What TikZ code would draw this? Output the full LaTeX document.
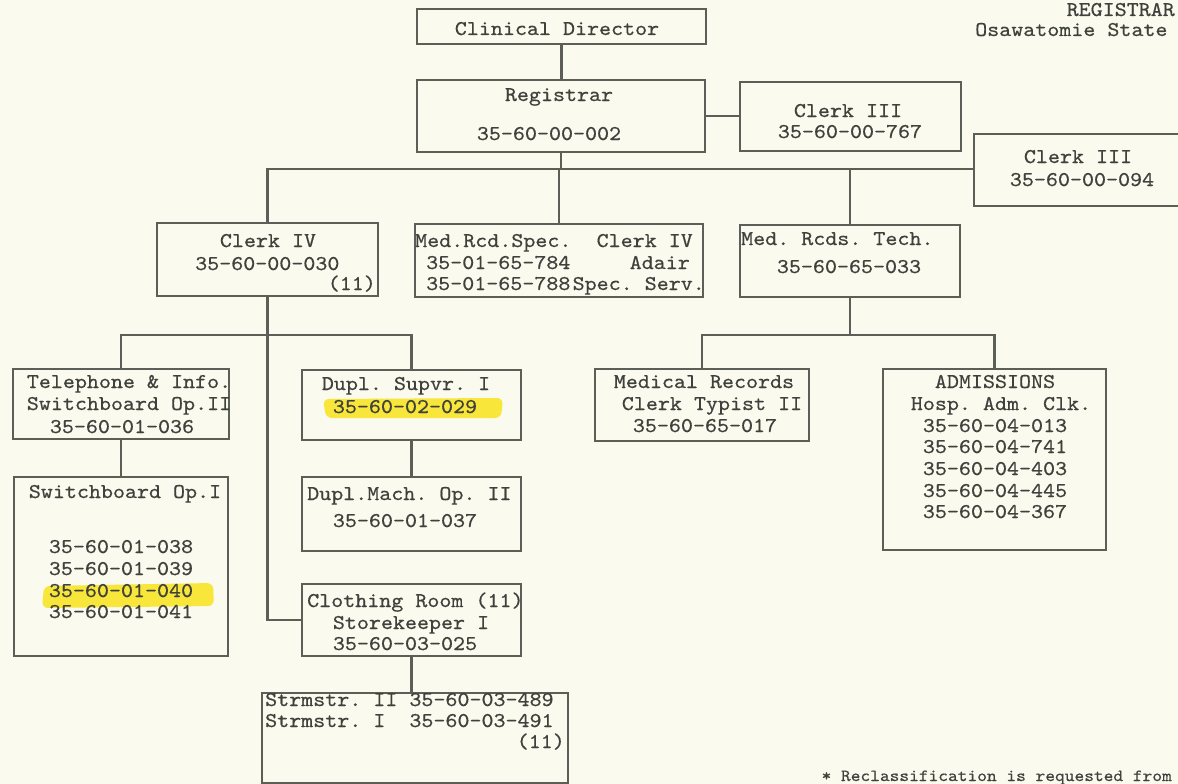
\documentclass[tikz,border=0pt]{standalone}
\usepackage{fontspec}
\usetikzlibrary{fit}
\newfontfamily\typew{lmmono10-regular.otf}[FakeStretch=1.09,FakeBold=0.5]
\definecolor{paper}{HTML}{FBFAEF}
\definecolor{ink}{HTML}{3F413C}
\definecolor{rulec}{HTML}{5B5F57}
\definecolor{hl}{HTML}{F8E63A}
\tikzset{
  box/.style={draw=rulec, line width=1.3pt, inner sep=0pt, rectangle},
  conn/.style={draw=rulec, line width=2.4pt},
  tl/.style={font=\typew\frenchspacing\fontsize{21}{21}\selectfont, text=ink, inner sep=0pt, anchor=base},
  tw/.style={tl, anchor=base west},
  te/.style={tl, anchor=base east},
  small/.style={font=\typew\frenchspacing\fontsize{17}{17}\selectfont, text=ink, inner sep=0pt, anchor=base east},
  hlmark/.style={fill=hl, rounded corners=6pt},
}
\begin{document}
\begin{tikzpicture}[x=1pt,y=-1pt]
\fill[paper] (0,0) rectangle (1178,784);
\useasboundingbox (0,0) rectangle (1178,784);

% highlights
\fill[hlmark] (323,399) -- (503,398) -- (501,418) -- (326,418) -- cycle;
\fill[hlmark] (44,586) -- (213,583) -- (214,606) -- (42,608) -- cycle;

% boxes
\node[box, fit={(417,9) (706,44)}] (cd) {};
\node[box, fit={(417,80) (705,152)}] (reg) {};
\node[box, fit={(740,82) (961,151)}] (c767) {};
\node[box, fit={(974,134) (1182,206)}] (c094) {};
\node[box, fit={(157,223) (378,296)}] (c4) {};
\node[box, fit={(415,224) (703,297)}] (mrs) {};
\node[box, fit={(740,225) (960,297)}] (mrt) {};
\node[box, fit={(13,369) (229,439)}] (tel) {};
\node[box, fit={(14,477) (228,656)}] (sw) {};
\node[box, fit={(302,370) (521,440)}] (dsup) {};
\node[box, fit={(302,477) (521,551)}] (dmach) {};
\node[box, fit={(302,584) (521,656)}] (cloth) {};
\node[box, fit={(262,693) (568,783)}] (strm) {};
\node[box, fit={(595,369) (809,441)}] (medrec) {};
\node[box, fit={(883,369) (1106,550)}] (adm) {};

% connectors
\coordinate (bus1) at (0,169);
\coordinate (bus2) at (0,335);
\draw[conn] (cd.south) -- (cd.south |- reg.north);
\draw[conn] (reg.east) -- (reg.east -| c767.west);
\draw[conn] (reg.south) -- (reg.south |- bus1);
\draw[conn] (c4.north) -- (c4.north |- bus1) -- (bus1 -| c094.west);
\draw[conn] (mrs.north) -- (mrs.north |- bus1);
\draw[conn] (mrt.north) -- (mrt.north |- bus1);
\draw[conn] (c4.south) -- (c4.south |- cloth.west) -- (cloth.west);
\draw[conn] (tel.north) -- (tel.north |- bus2) -- (bus2 -| dsup.north) -- (dsup.north);
\draw[conn] (tel.south) -- (tel.south |- sw.north);
\draw[conn] (dsup.south) -- (dsup.south |- dmach.north);
\draw[conn] (cloth.south) -- (cloth.south |- strm.north);
\draw[conn] (mrt.south) -- (mrt.south |- bus2);
\draw[conn] (medrec.north) -- (medrec.north |- bus2) -- (bus2 -| adm.north) -- (adm.north);

% texts
\node[te] (hd1) at (1175,16) {REGISTRAR};
\node[tw] (hd2) at (975,36) {Osawatomie State};

\node[tl] (cdT) at (557,35) {Clinical Director};
\node[tl] (regT1) at (559,101) {Registrar};
\node[tl] (regT2) at (549,140) {35-60-00-002};
\node[tl] (c767T1) at (848,117) {Clerk III};
\node[tl] (c767T2) at (850,138) {35-60-00-767};
\node[tl] (c094T1) at (1078,163) {Clerk III};
\node[tl] (c094T2) at (1082,186) {35-60-00-094};

\node[tl] (c4T1) at (268,247) {Clerk IV};
\node[tw] (c4T2) at (195,270) {35-60-00-030};
\node[te] (c4T3) at (376,290) {(11)};

\node[tw] (mrsT1) at (415,247) {Med.Rcd.Spec.};
\node[te] (mrsT2) at (693,247) {Clerk IV};
\node[tw] (mrsT3) at (426,269) {35-01-65-784};
\node[te] (mrsT4) at (690,269) {Adair};
\node[tw] (mrsT5) at (426,290) {35-01-65-788};
\node[te] (mrsT6) at (705,290) {Spec. Serv.};

\node[tw] (mrtT1) at (741,245) {Med. Rcds. Tech.};
\node[tl] (mrtT2) at (849,273) {35-60-65-033};

\node[tl] (telT1) at (129,388) {Telephone \& Info.};
\node[tl] (telT2) at (129,410) {Switchboard Op.II};
\node[tl] (telT3) at (122,433) {35-60-01-036};

\node[tl] (swT0) at (125,498) {Switchboard Op.I};
\node[tl] (swT1) at (121,553) {35-60-01-038};
\node[tl] (swT2) at (121,575) {35-60-01-039};
\node[tl] (swT3) at (121,597) {35-60-01-040};
\node[tl] (swT4) at (121,618) {35-60-01-041};

\node[tl] (dsupT1) at (406,390) {Dupl. Supvr. I};
\node[tl] (dsupT2) at (405,413) {35-60-02-029};

\node[tw] (dmachT1) at (307,500) {Dupl.Mach. Op. II};
\node[tl] (dmachT2) at (405,527) {35-60-01-037};

\node[tw] (clothT1) at (307,607) {Clothing Room (11)};
\node[tl] (clothT2) at (411,629) {Storekeeper I};
\node[tl] (clothT3) at (405,650) {35-60-03-025};

\node[tw] (strmT1) at (265,706) {Strmstr. II 35-60-03-489};
\node[tw] (strmT2) at (265,727) {Strmstr. I\ \ 35-60-03-491};
\node[te] (strmT3) at (565,748) {(11)};

\node[tl] (medrecT1) at (704,388) {Medical Records};
\node[tl] (medrecT2) at (712,410) {Clerk Typist II};
\node[tl] (medrecT3) at (705,432) {35-60-65-017};

\node[tl] (admT1) at (995,388) {ADMISSIONS};
\node[tl] (admT2) at (1001,410) {Hosp. Adm. Clk.};
\node[tl] (admT3) at (995,432) {35-60-04-013};
\node[tl] (admT4) at (995,453) {35-60-04-741};
\node[tl] (admT5) at (995,475) {35-60-04-403};
\node[tl] (admT6) at (995,497) {35-60-04-445};
\node[tl] (admT7) at (995,518) {35-60-04-367};

\node[small] (foot) at (1172,781) {* Reclassification is requested from};
\end{tikzpicture}
\end{document}
